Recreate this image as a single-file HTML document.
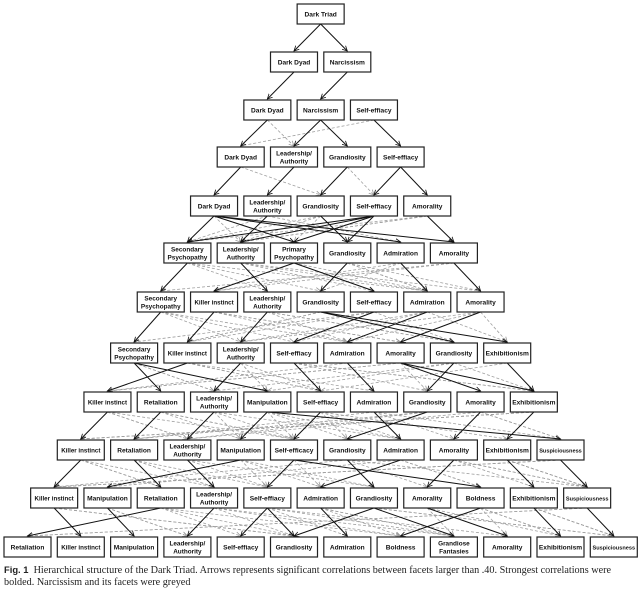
<!DOCTYPE html>
<html><head><meta charset="utf-8"><style>
html,body{margin:0;padding:0;background:#fff;width:639px;height:590px;overflow:hidden}
svg{position:absolute;left:0;top:0}
.cap{position:absolute;left:4px;top:564px;width:634px;font-family:"Liberation Serif",serif;font-size:10.2px;line-height:12px;color:#222}
.cap b{font-family:"Liberation Sans",sans-serif;font-size:9.4px}
</style></head><body>
<svg id="s" width="639" height="590" xmlns="http://www.w3.org/2000/svg">
<defs>
<marker id="a" markerWidth="6" markerHeight="6" refX="5" refY="3" orient="auto" markerUnits="userSpaceOnUse"><path d="M0,0.5 L5,3 L0,5.5" fill="none" stroke="#111" stroke-width="0.8"/></marker>
<marker id="g" markerWidth="6" markerHeight="6" refX="5" refY="3" orient="auto" markerUnits="userSpaceOnUse"><path d="M0,0.5 L5,3 L0,5.5" fill="none" stroke="#999" stroke-width="0.8"/></marker>
</defs>
</svg>
<div class="cap"><b>Fig. 1</b> &nbsp;Hierarchical structure of the Dark Triad. Arrows represents significant correlations between facets larger than .40. Strongest correlations were bolded. Narcissism and its facets were greyed</div>
<script>
var rows=[
["Dark Triad"],
["Dark Dyad","Narcissism"],
["Dark Dyad","Narcissism","Self-effiacy"],
["Dark Dyad","Leadership/|Authority","Grandiosity","Self-effiacy"],
["Dark Dyad","Leadership/|Authority","Grandiosity","Self-effiacy","Amorality"],
["Secondary|Psychopathy","Leadership/|Authority","Primary|Psychopathy","Grandiosity","Admiration","Amorality"],
["Secondary|Psychopathy","Killer instinct","Leadership/|Authority","Grandiosity","Self-effiacy","Admiration","Amorality"],
["Secondary|Psychopathy","Killer instinct","Leadership/|Authority","Self-effiacy","Admiration","Amorality","Grandiosity","Exhibitionism"],
["Killer instinct","Retaliation","Leadership/|Authority","Manipulation","Self-effiacy","Admiration","Grandiosity","Amorality","Exhibitionism"],
["Killer instinct","Retaliation","Leadership/|Authority","Manipulation","Self-efficacy","Grandiosity","Admiration","Amorality","Exhibitionism","Suspiciousness"],
["Killer instinct","Manipulation","Retaliation","Leadership/|Authority","Self-effiacy","Admiration","Grandiosity","Amorality","Boldness","Exhibitionism","Suspiciousness"],
["Retaliation","Killer instinct","Manipulation","Leadership/|Authority","Self-effiacy","Grandiosity","Admiration","Boldness","Grandiose|Fantasies","Amorality","Exhibitionism","Suspiciousness"]];
var ys=[4,52,100,147,196,243,292,343,392,440,488,537];
var H=20,W=47,S=53.3;
function X(r,i){return 4+(11-r)*26.65+i*S;}
var solid=[
[[0,0],[0,1]],
[[0,0],[1,1]],
[[0,0],[1,1],[1,2],[2,3]],
[[0,0],[1,1],[2,2],[3,3],[3,4]],
[[0,0],[0,2],[0,4],[1,1],[2,3],[3,0],[3,1],[3,2],[3,3],[0,5],[4,5]],
[[0,0],[1,2],[2,1],[2,4],[3,3],[4,5],[5,6]],
[[0,0],[1,1],[2,2],[4,3],[3,6],[3,7],[5,4],[6,5]],
[[0,1],[0,3],[1,0],[2,2],[3,4],[4,5],[5,7],[5,8],[6,6],[7,8]],
[[0,0],[1,1],[2,2],[3,3],[3,9],[4,4],[5,6],[6,5],[7,7],[8,8]],
[[0,0],[1,2],[3,1],[2,3],[4,4],[4,8],[5,6],[6,5],[7,7],[8,9],[9,10]],
[[0,1],[1,2],[2,0],[3,3],[4,4],[4,5],[5,6],[6,5],[6,8],[7,9],[8,7],[9,10],[10,11]]];
var s=document.getElementById('s'),out="";
function line(r,i,j,d){var x1=X(r,i)+W/2,y1=ys[r]+H,x2=X(r+1,j)+W/2,y2=ys[r+1]-1;
out+='<line x1="'+x1+'" y1="'+y1+'" x2="'+x2+'" y2="'+y2+'" stroke="'+(d?'#a0a0a0':'#111')+'" stroke-width="'+(d?0.8:1)+'"'+(d?' stroke-dasharray="3,2" marker-end="url(#g)"':' marker-end="url(#a)"')+'/>';}
for(var r=1;r<11;r++){var n=rows[r].length,m=rows[r+1].length;var seed=r*7;
 for(var i=0;i<n;i++){for(var k=0;k<(r<4?1:3);k++){seed=(seed*37+11)%101;var j=(i+1+(seed%(Math.min(m,6))))%m;if(Math.abs(j-i)>5)j=(i+2)%m;
 var dup=solid[r].some(function(e){return e[0]==i&&e[1]==j});if(!dup)line(r,i,j,1);}}}
for(var r=0;r<11;r++)solid[r].forEach(function(e){line(r,e[0],e[1],0)});
for(var r=0;r<12;r++)rows[r].forEach(function(t,i){var x=X(r,i),y=ys[r];
 out+='<rect x="'+x+'" y="'+y+'" width="'+W+'" height="'+H+'" fill="#fff" stroke="#222" stroke-width="1.2"/>';
 var p=t.split('|');var fs=(t=="Suspiciousness")?5.6:(t=="Killer instinct"?6.2:6.6);
 if(p.length==1)out+='<text x="'+(x+W/2)+'" y="'+(y+12.5)+'" font-size="'+fs+'" text-anchor="middle" font-family="Liberation Sans,sans-serif" font-weight="bold" fill="#111">'+t+'</text>';
 else{out+='<text x="'+(x+W/2)+'" y="'+(y+8.5)+'" font-size="6.4" text-anchor="middle" font-family="Liberation Sans,sans-serif" font-weight="bold" fill="#111">'+p[0]+'</text>';
 out+='<text x="'+(x+W/2)+'" y="'+(y+16.5)+'" font-size="6.4" text-anchor="middle" font-family="Liberation Sans,sans-serif" font-weight="bold" fill="#111">'+p[1]+'</text>';}
});
s.insertAdjacentHTML('beforeend',out);
</script>
</body></html>
